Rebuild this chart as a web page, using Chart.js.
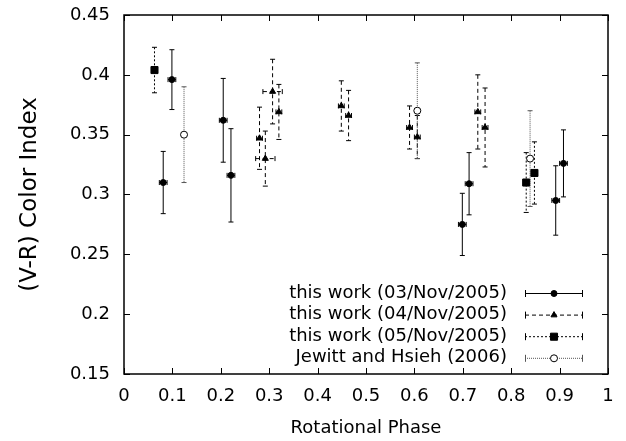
<!DOCTYPE html>
<html>
<head>
<meta charset="utf-8">
<script src="https://cdn.jsdelivr.net/npm/chart.js@4.4.0/dist/chart.umd.min.js"></script>
<style>
  body { margin: 0; background: #fff; }
  #wrap { width: 626px; height: 441px; }
</style>
</head>
<body>
<div id="wrap"><canvas id="chart" width="626" height="441"></canvas></div>
<script>
// (V-R) colour vs rotational phase, one set per night + Jewitt & Hsieh
const phase03 = [0.081, 0.099, 0.205, 0.221, 0.699, 0.713, 0.892, 0.908];
const phaseErr03 = [0.008, 0.008, 0.008, 0.008, 0.008, 0.008, 0.008, 0.008];
const color03 = [0.310, 0.396, 0.362, 0.316, 0.275, 0.309, 0.295, 0.326];
const colorErr03 = [0.026, 0.025, 0.035, 0.039, 0.026, 0.026, 0.029, 0.028];

const phase04 = [0.280, 0.292, 0.307, 0.320, 0.449, 0.464, 0.590, 0.606, 0.731, 0.746];
const phaseErr04 = [0.006, 0.020, 0.020, 0.006, 0.006, 0.006, 0.006, 0.006, 0.006, 0.006];
const color04 = [0.347, 0.330, 0.386, 0.369, 0.374, 0.366, 0.356, 0.348, 0.369, 0.356];
const colorErr04 = [0.026, 0.023, 0.027, 0.023, 0.021, 0.021, 0.018, 0.018, 0.031, 0.033];

const phase05 = [0.063, 0.831, 0.848];
const phaseErr05 = [0.006, 0.006, 0.006];
const color05 = [0.404, 0.310, 0.318];
const colorErr05 = [0.019, 0.025, 0.026];

const phaseJH = [0.124, 0.606, 0.839];
const phaseErrJH = [0, 0, 0];
const colorJH = [0.350, 0.370, 0.330];
const colorErrJH = [0.040, 0.040, 0.040];

const xTickLabels = ['0', '0.1', '0.2', '0.3', '0.4', '0.5', '0.6', '0.7', '0.8', '0.9', '1'];
const yTickLabels = ['0.15', '0.2', '0.25', '0.3', '0.35', '0.4', '0.45'];

function points(xs, xe, ys, ye) {
  return xs.map((x, i) => ({ x: x, y: ys[i], xErr: xe[i], yErr: ye[i] }));
}

Chart.defaults.font.family = 'DejaVu Sans';
Chart.defaults.font.size = 18;
Chart.defaults.color = '#000';

// error bars go under the markers
const errorBars = {
  id: 'errorBars',
  beforeDatasetsDraw(chart) {
    const ctx = chart.ctx, xs = chart.scales.x, ys = chart.scales.y;
    chart.data.datasets.forEach(ds => {
      ctx.save();
      ctx.strokeStyle = ds.errColor;
      ctx.lineWidth = 1;
      ds.data.forEach(p => {
        const px = xs.getPixelForValue(p.x), py = ys.getPixelForValue(p.y);
        const top = ys.getPixelForValue(p.y + p.yErr), bot = ys.getPixelForValue(p.y - p.yErr);
        ctx.setLineDash(ds.errDash);
        ctx.beginPath();
        ctx.moveTo(px, top); ctx.lineTo(px, bot);
        if (p.xErr > 0) {
          ctx.moveTo(xs.getPixelForValue(p.x - p.xErr), py);
          ctx.lineTo(xs.getPixelForValue(p.x + p.xErr), py);
        }
        ctx.stroke();
        ctx.setLineDash([]);
        ctx.beginPath();
        ctx.moveTo(px - 2.5, top); ctx.lineTo(px + 2.5, top);
        ctx.moveTo(px - 2.5, bot); ctx.lineTo(px + 2.5, bot);
        if (p.xErr > 0) {
          const l = xs.getPixelForValue(p.x - p.xErr), r = xs.getPixelForValue(p.x + p.xErr);
          ctx.moveTo(l, py - 2.5); ctx.lineTo(l, py + 2.5);
          ctx.moveTo(r, py - 2.5); ctx.lineTo(r, py + 2.5);
        }
        ctx.stroke();
      });
      ctx.restore();
    });
  }
};

// gnuplot style frame with inward ticks on all sides
const frame = {
  id: 'frame',
  afterDraw(chart) {
    const ctx = chart.ctx, a = chart.chartArea, xs = chart.scales.x, ys = chart.scales.y;
    ctx.save();
    ctx.strokeStyle = '#000';
    ctx.lineWidth = 1;
    ctx.beginPath();
    xs.ticks.forEach(t => {
      const px = Math.round(xs.getPixelForValue(t.value)) + 0.5;
      ctx.moveTo(px, a.bottom); ctx.lineTo(px, a.bottom - 6);
      ctx.moveTo(px, a.top); ctx.lineTo(px, a.top + 6);
    });
    ys.ticks.forEach(t => {
      const py = Math.round(ys.getPixelForValue(t.value)) + 0.5;
      ctx.moveTo(a.left, py); ctx.lineTo(a.left + 6, py);
      ctx.moveTo(a.right, py); ctx.lineTo(a.right - 6, py);
    });
    ctx.stroke();
    ctx.lineWidth = 1.5;
    ctx.strokeRect(a.left, a.top, a.right - a.left, a.bottom - a.top);
    ctx.restore();
  }
};

const keyBox = {
  id: 'keyBox',
  afterDraw(chart) {
    const ctx = chart.ctx;
    const textRight = 507, x0 = 525, x1 = 583, top = 293, gap = 21.6;
    chart.data.datasets.forEach((ds, i) => {
      const y = top + i * gap;
      ctx.save();
      ctx.font = '18px "DejaVu Sans"';
      ctx.fillStyle = '#000';
      ctx.textAlign = 'right';
      ctx.textBaseline = 'middle';
      ctx.fillText(ds.label, textRight, y);
      ctx.strokeStyle = ds.errColor;
      ctx.lineWidth = 1;
      ctx.setLineDash(ds.errDash);
      ctx.beginPath();
      ctx.moveTo(x0, y + 0.5); ctx.lineTo(x1, y + 0.5);
      ctx.stroke();
      ctx.setLineDash([]);
      ctx.beginPath();
      ctx.moveTo(x0 + 0.5, y - 3); ctx.lineTo(x0 + 0.5, y + 4);
      ctx.moveTo(x1 - 0.5, y - 3); ctx.lineTo(x1 - 0.5, y + 4);
      ctx.stroke();
      ctx.fillStyle = ds.pointBackgroundColor;
      ctx.strokeStyle = '#000';
      ctx.lineWidth = 1;
      Chart.helpers.drawPoint(ctx, {
        pointStyle: ds.pointStyle, radius: ds.pointRadius, rotation: 0, borderWidth: 1
      }, (x0 + x1) / 2, y + 0.5);
      ctx.restore();
    });
  }
};

new Chart(document.getElementById('chart'), {
  type: 'scatter',
  data: {
    datasets: [
      {
        label: 'this work (03/Nov/2005)',
        data: points(phase03, phaseErr03, color03, colorErr03),
        pointStyle: 'circle', pointRadius: 3,
        pointBackgroundColor: '#000', pointBorderColor: '#000', pointBorderWidth: 1,
        errColor: '#000', errDash: []
      },
      {
        label: 'this work (04/Nov/2005)',
        data: points(phase04, phaseErr04, color04, colorErr04),
        pointStyle: 'triangle', pointRadius: 3.5,
        pointBackgroundColor: '#000', pointBorderColor: '#000', pointBorderWidth: 1,
        errColor: '#000', errDash: [4, 3]
      },
      {
        label: 'this work (05/Nov/2005)',
        data: points(phase05, phaseErr05, color05, colorErr05),
        pointStyle: 'rect', pointRadius: 5,
        pointBackgroundColor: '#000', pointBorderColor: '#000', pointBorderWidth: 1,
        errColor: '#000', errDash: [2, 2]
      },
      {
        label: 'Jewitt and Hsieh (2006)',
        data: points(phaseJH, phaseErrJH, colorJH, colorErrJH),
        pointStyle: 'circle', pointRadius: 3.5,
        pointBackgroundColor: '#fff', pointBorderColor: '#000', pointBorderWidth: 1,
        errColor: '#555', errDash: [1, 1]
      }
    ]
  },
  options: {
    responsive: false,
    animation: false,
    layout: { padding: { top: 15, right: 18, left: 0, bottom: 0 } },
    plugins: { legend: { display: false }, tooltip: { enabled: false } },
    scales: {
      x: {
        type: 'linear', min: 0, max: 1,
        grid: { display: false, drawTicks: false },
        border: { display: false },
        ticks: { stepSize: 0.1, padding: 12, maxRotation: 0,
                 callback: (v, i) => xTickLabels[i] },
        title: { display: true, text: 'Rotational Phase', font: { size: 18 },
                 padding: { top: 0, bottom: 2 } },
        afterFit: s => { s.height = 67; s.paddingLeft = 0; s.paddingRight = 0; }
      },
      y: {
        type: 'linear', min: 0.15, max: 0.45,
        grid: { display: false, drawTicks: false },
        border: { display: false },
        ticks: { stepSize: 0.05, padding: 14,
                 callback: (v, i) => yTickLabels[i] },
        title: { display: true, text: '(V-R) Color Index', font: { size: 23 },
                 padding: { top: 16, bottom: 0 } },
        afterFit: s => { s.width = 124; s.paddingTop = 0; s.paddingBottom = 0; }
      }
    }
  },
  plugins: [errorBars, frame, keyBox]
});
</script>
</body>
</html>
